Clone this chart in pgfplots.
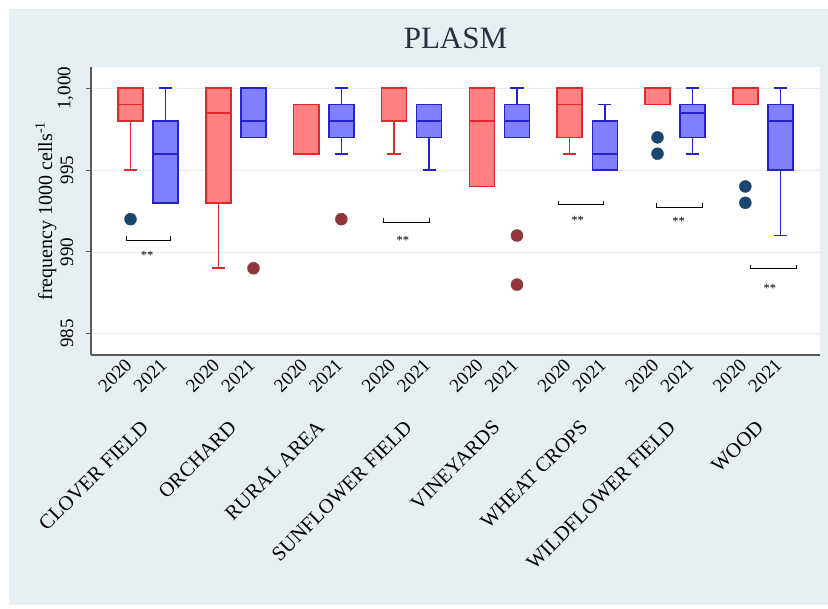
\documentclass[border=0pt]{standalone}
\usepackage{fontspec}
\setmainfont{Liberation Serif}
\usepackage{pgfplots}
\pgfplotsset{compat=1.18}

\definecolor{bgblue}{HTML}{E8EFF2}
\definecolor{redline}{RGB}{228,38,45}
\definecolor{redfill}{RGB}{255,128,128}
\definecolor{blueline}{RGB}{35,35,205}
\definecolor{bluefill}{RGB}{128,128,255}
\definecolor{navydot}{HTML}{1A476F}
\definecolor{maroondot}{HTML}{90353B}
\definecolor{axisgray}{RGB}{90,90,90}
\definecolor{gridgray}{RGB}{234,236,238}
\definecolor{titlecol}{HTML}{243242}

\pgfplotsset{
  y2020/.style={draw=redline, line width=1.6pt, solid, line join=miter},
  y2021/.style={draw=blueline, line width=1.6pt, solid, line join=miter},
  sig/.style={black, line width=0.9pt},
}

% one box: #1 year style, #2 fill, #3 position, #4 lower whisker,
% #5 lower quartile, #6 median, #7 upper quartile, #8 upper whisker
\newcommand{\boxat}[8]{%
  \pgfmathsetmacro\bxl{#3-0.1425}\pgfmathsetmacro\bxr{#3+0.1425}%
  \pgfmathsetmacro\cpl{#3-0.075}\pgfmathsetmacro\cpr{#3+0.075}%
  \edef\boxcmds{%
    \noexpand\addplot[#1, fill=#2] coordinates {(\bxl,#5) (\bxr,#5) (\bxr,#7) (\bxl,#7)} -- cycle;
    \noexpand\addplot[#1] coordinates {(\bxl,#6) (\bxr,#6)};
    \noexpand\addplot[#1] coordinates {(#3,#7) (#3,#8)};
    \noexpand\addplot[#1] coordinates {(\cpl,#8) (\cpr,#8)};
    \noexpand\addplot[#1] coordinates {(#3,#5) (#3,#4)};
    \noexpand\addplot[#1] coordinates {(\cpl,#4) (\cpr,#4)};
  }\boxcmds}

\begin{document}
\begin{tikzpicture}
\fill[white] (0pt,0pt) rectangle (828pt,609pt);
\fill[bgblue] (9pt,4pt) rectangle (828pt,600pt);
\begin{axis}[
  at={(91pt,254pt)}, anchor=south west,
  scale only axis, width=729pt, height=288pt,
  xmin=-0.65, xmax=7.65, ymin=983.7, ymax=1001.3,
  axis x line*=bottom, axis y line*=left,
  axis line style={draw=axisgray, line width=1.2pt},
  axis background/.style={fill=white},
  clip=false,
  /pgf/number format/assume math mode=true,
  ytick={985,990,995,1000},
  yticklabels={985,990,995,{1,000}},
  ymajorgrids,
  grid style={draw=gridgray, line width=0.8pt},
  tick align=outside,
  major tick length=4.5pt,
  y tick style={draw=axisgray, line width=1pt},
  x tick style={draw=none},
  y tick label style={xshift=-12pt, rotate=90, anchor=south, inner sep=1pt,
    font=\fontsize{19}{19}\selectfont},
  xtick={-0.2,0.2,0.8,1.2,1.8,2.2,2.8,3.2,3.8,4.2,4.8,5.2,5.8,6.2,6.8,7.2},
  xticklabels={2020,2021,2020,2021,2020,2021,2020,2021,2020,2021,2020,2021,2020,2021,2020,2021},
  x tick label style={xshift=-2pt, yshift=-2.5pt, rotate=45, anchor=east, inner sep=0pt,
    font=\fontsize{19}{19}\selectfont},
  ylabel={frequency 1000 cells\textsuperscript{-1}},
  ylabel style={at={(axis description cs:-0.047,0.5)}, anchor=south, inner sep=0pt,
    font=\fontsize{20}{20}\selectfont},
  title={PLASM},
  title style={at={(axis description cs:0.5,1)}, anchor=base, yshift=12pt,
    font=\fontsize{31}{31}\selectfont, text=titlecol},
]
% CLOVER FIELD
\boxat{y2020}{redfill}{-0.2}{995}{998}{999}{1000}{1000}
\boxat{y2021}{bluefill}{0.2}{993}{993}{996}{998}{1000}
% ORCHARD
\boxat{y2020}{redfill}{0.8}{989}{993}{998.5}{1000}{1000}
\boxat{y2021}{bluefill}{1.2}{997}{997}{998}{1000}{1000}
% RURAL AREA
\boxat{y2020}{redfill}{1.8}{996}{996}{999}{999}{999}
\boxat{y2021}{bluefill}{2.2}{996}{997}{998}{999}{1000}
% SUNFLOWER FIELD
\boxat{y2020}{redfill}{2.8}{996}{998}{1000}{1000}{1000}
\boxat{y2021}{bluefill}{3.2}{995}{997}{998}{999}{999}
% VINEYARDS
\boxat{y2020}{redfill}{3.8}{994}{994}{998}{1000}{1000}
\boxat{y2021}{bluefill}{4.2}{997}{997}{998}{999}{1000}
% WHEAT CROPS
\boxat{y2020}{redfill}{4.8}{996}{997}{999}{1000}{1000}
\boxat{y2021}{bluefill}{5.2}{995}{995}{996}{998}{999}
% WILDFLOWER FIELD
\boxat{y2020}{redfill}{5.8}{999}{999}{1000}{1000}{1000}
\boxat{y2021}{bluefill}{6.2}{996}{997}{998.5}{999}{1000}
% WOOD
\boxat{y2020}{redfill}{6.8}{999}{999}{1000}{1000}{1000}
\boxat{y2021}{bluefill}{7.2}{991}{995}{998}{999}{1000}

% outside values
\addplot[only marks, mark=*, mark size=6pt, color=navydot] coordinates {(-0.2,992) (5.8,997) (5.8,996) (6.8,994) (6.8,993)};
\addplot[only marks, mark=*, mark size=6pt, color=maroondot] coordinates {(1.2,989) (2.2,992) (4.2,991) (4.2,988)};

% significance brackets
\addplot[sig] coordinates {(-0.25,990.97) (-0.25,990.73) (0.26,990.73) (0.26,990.97)};
\addplot[sig] coordinates {(2.68,992.07) (2.68,991.83) (3.20,991.83) (3.20,992.07)};
\addplot[sig] coordinates {(4.67,993.11) (4.67,992.87) (5.19,992.87) (5.19,993.11)};
\addplot[sig] coordinates {(5.79,992.98) (5.79,992.74) (6.31,992.74) (6.31,992.98)};
\addplot[sig] coordinates {(6.86,989.20) (6.86,988.96) (7.38,988.96) (7.38,989.20)};
\begin{scope}[every node/.style={font=\fontsize{12.5}{12.5}\selectfont, inner sep=0pt, yshift=-2pt}]
\node at (axis cs:-0.01,989.88) {**};
\node at (axis cs:2.90,990.85) {**};
\node at (axis cs:4.89,992.07) {**};
\node at (axis cs:6.04,992.00) {**};
\node at (axis cs:7.08,987.87) {**};
\end{scope}

% category names
\begin{scope}[every node/.style={rotate=45, anchor=east, inner sep=0pt, font=\fontsize{20.5}{20.5}\selectfont}]
\node at (axis cs:-0.034,979.48) {CLOVER FIELD};
\node at (axis cs:0.966,979.48) {ORCHARD};
\node at (axis cs:1.966,979.48) {RURAL AREA};
\node at (axis cs:2.966,979.48) {SUNFLOWER FIELD};
\node at (axis cs:3.966,979.48) {VINEYARDS};
\node at (axis cs:4.966,979.48) {WHEAT CROPS};
\node at (axis cs:5.966,979.48) {WILDFLOWER FIELD};
\node at (axis cs:6.966,979.48) {WOOD};
\end{scope}
\end{axis}
\pgfresetboundingbox
\path (0pt,0pt) rectangle (828pt,609pt);
\end{tikzpicture}
\end{document}
